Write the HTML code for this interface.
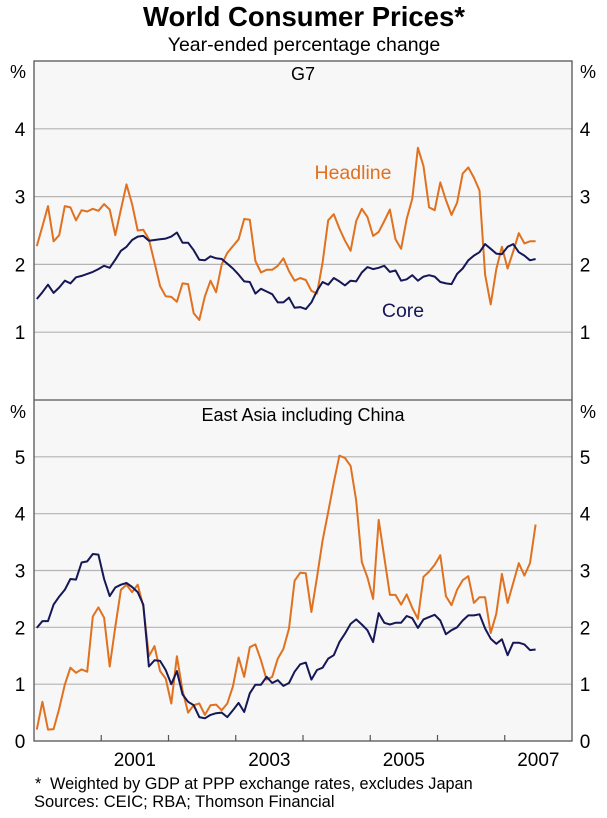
<!DOCTYPE html>
<html><head><meta charset="utf-8">
<style>
html,body{margin:0;padding:0;background:#fff;}
body{width:607px;height:813px;overflow:hidden;font-family:"Liberation Sans",Arial,sans-serif;}
svg text{font-family:"Liberation Sans",Arial,sans-serif;}
</style></head>
<body>
<svg id="chart" width="607" height="813">
  <text x="304" y="26" text-anchor="middle" font-size="27.5" font-weight="bold" fill="#000">World Consumer Prices*</text>
  <text x="304" y="51" text-anchor="middle" font-size="19.5" fill="#000">Year-ended percentage change</text>
  <g id="plots"></g>
  <text x="35" y="789" font-size="16.3" fill="#000">*</text>
  <text x="50" y="789" font-size="16.3" fill="#000">Weighted by GDP at PPP exchange rates, excludes Japan</text>
  <text x="34" y="807" font-size="16.5" fill="#000">Sources: CEIC; RBA; Thomson Financial</text>
</svg>
<script>
const g7Headline=[2.27,2.56,2.86,2.34,2.43,2.86,2.84,2.65,2.80,2.78,2.82,2.79,2.89,2.81,2.43,2.81,3.18,2.89,2.50,2.51,2.37,2.03,1.68,1.53,1.52,1.45,1.72,1.71,1.28,1.18,1.53,1.76,1.59,2.00,2.17,2.27,2.37,2.67,2.66,2.05,1.88,1.92,1.92,1.98,2.09,1.90,1.76,1.80,1.77,1.61,1.57,2.03,2.65,2.74,2.53,2.35,2.20,2.64,2.82,2.70,2.42,2.48,2.64,2.81,2.37,2.23,2.67,2.97,3.72,3.45,2.84,2.80,3.21,2.95,2.73,2.91,3.34,3.43,3.28,3.09,1.85,1.41,1.93,2.26,1.94,2.19,2.46,2.31,2.34,2.34];
const g7Core=[1.49,1.59,1.70,1.58,1.66,1.76,1.72,1.81,1.83,1.86,1.89,1.93,1.98,1.95,2.07,2.20,2.26,2.36,2.41,2.42,2.35,2.36,2.37,2.38,2.41,2.47,2.32,2.32,2.21,2.07,2.06,2.12,2.09,2.08,2.01,1.94,1.85,1.75,1.74,1.57,1.64,1.60,1.56,1.44,1.44,1.51,1.36,1.37,1.34,1.44,1.61,1.74,1.70,1.80,1.75,1.69,1.76,1.75,1.88,1.96,1.93,1.95,1.98,1.89,1.91,1.76,1.78,1.84,1.76,1.82,1.84,1.82,1.74,1.72,1.71,1.86,1.94,2.06,2.13,2.18,2.30,2.23,2.16,2.15,2.26,2.30,2.18,2.13,2.06,2.08];
const asiaHeadline=[0.20,0.69,0.20,0.21,0.57,0.99,1.29,1.20,1.26,1.22,2.19,2.35,2.17,1.31,2.01,2.66,2.75,2.62,2.75,2.37,1.49,1.67,1.23,1.10,0.66,1.49,0.89,0.50,0.63,0.66,0.46,0.63,0.64,0.54,0.66,0.96,1.47,1.13,1.65,1.70,1.42,1.08,1.13,1.45,1.62,1.98,2.82,2.96,2.95,2.27,2.88,3.53,4.03,4.55,5.02,4.98,4.84,4.23,3.15,2.88,2.50,3.89,3.23,2.57,2.57,2.40,2.58,2.34,2.15,2.89,2.98,3.10,3.27,2.55,2.39,2.66,2.83,2.90,2.43,2.53,2.53,1.90,2.24,2.94,2.43,2.78,3.13,2.91,3.13,3.81];
const asiaCore=[1.99,2.11,2.11,2.40,2.54,2.66,2.85,2.84,3.14,3.16,3.29,3.28,2.85,2.55,2.70,2.75,2.78,2.71,2.62,2.40,1.31,1.42,1.41,1.25,1.00,1.23,0.82,0.69,0.63,0.42,0.40,0.46,0.49,0.50,0.42,0.54,0.67,0.51,0.84,0.99,0.99,1.13,1.02,1.07,0.97,1.02,1.22,1.35,1.38,1.08,1.25,1.29,1.45,1.51,1.74,1.89,2.06,2.14,2.05,1.95,1.74,2.25,2.08,2.05,2.08,2.08,2.20,2.16,1.99,2.14,2.18,2.22,2.12,1.88,1.95,2.00,2.12,2.21,2.21,2.23,1.98,1.80,1.71,1.79,1.51,1.73,1.73,1.70,1.60,1.61];
const yearLabels=["2001","2003","2005","2007"];
const topTicks=[1,2,3,4];
const bottomTicks=[0,1,2,3,4,5];

const NS="http://www.w3.org/2000/svg";
const root=document.getElementById('plots');
const L=34,R=572,TOP=61,MID=400,BOT=741;
const startYear=2000,endYear=2008;
function xMonth(i){return L+(startYear+(i+0.5)/12-startYear)/(endYear-startYear)*(R-L);}
function xYear(y){return L+(y-startYear)/(endYear-startYear)*(R-L);}
function yTop(v){return MID-v*(MID-TOP)/5;}
function yBot(v){return BOT-v*(BOT-MID)/6;}
function el(tag,attrs){const e=document.createElementNS(NS,tag);for(const k in attrs)e.setAttribute(k,attrs[k]);root.appendChild(e);return e;}

const bg=el('rect',{x:L,y:TOP,width:R-L,height:BOT-TOP,fill:'#f7f7f7'});



topTicks.forEach(v=>{
  const ln=el('line',{x1:L,x2:R,y1:yTop(v),y2:yTop(v),stroke:'#b4b4b4','stroke-width':1.2});
  
  
  const t1=el('text',{x:20,y:yTop(v)+7,'text-anchor':'middle','font-size':19});
  t1.textContent=v;
  
  
  const t2=el('text',{x:585,y:yTop(v)+7,'text-anchor':'middle','font-size':19});
  t2.textContent=v;
  
  
});
bottomTicks.forEach(v=>{
  if(v>0){
    const ln=el('line',{x1:L,x2:R,y1:yBot(v),y2:yBot(v),stroke:'#b4b4b4','stroke-width':1.2});
    
    
  }
  const t1=el('text',{x:20,y:yBot(v)+7,'text-anchor':'middle','font-size':19});
  t1.textContent=v;
  
  
  const t2=el('text',{x:585,y:yBot(v)+7,'text-anchor':'middle','font-size':19});
  t2.textContent=v;
  
  
});
[["%",18,78],["%",588,78],["%",18,418],["%",588,418]].forEach(a=>{
  const t=el('text',{x:a[1],y:a[2],'text-anchor':'middle','font-size':18});
  t.textContent=a[0];
  
  
});
const mid=el('line',{x1:L,x2:R,y1:MID,y2:MID,stroke:'#555','stroke-width':1.3});


const frame=el('rect',{x:L,y:TOP,width:R-L,height:BOT-TOP,fill:'none',stroke:'#555','stroke-width':1.3});


for(let y=2001;y<=2007;y++){
  const tk=el('line',{x1:xYear(y),x2:xYear(y),y1:BOT,y2:BOT-6,stroke:'#555','stroke-width':1.2});
  
  
}
yearLabels.forEach(s=>{
  const t=el('text',{x:xYear(+s+0.5),y:766,'text-anchor':'middle','font-size':19});
  t.textContent=s;
  
  
});
const pt1=el('text',{x:303,y:80,'text-anchor':'middle','font-size':18});
pt1.textContent='G7';


const pt2=el('text',{x:303,y:421,'text-anchor':'middle','font-size':18});
pt2.textContent='East Asia including China';



function line(data,yf,color,name){
  const d=data.map((v,i)=>(i?'L':'M')+xMonth(i).toFixed(1)+','+yf(v).toFixed(1)).join('');
  const p=el('path',{d:d,fill:'none',stroke:color,'stroke-width':2,'stroke-linejoin':'round'});
  
  
}
const ORANGE='#e0711f',NAVY='#151756';
line(g7Headline,yTop,ORANGE,'g7-headline-line');
line(g7Core,yTop,NAVY,'g7-core-line');
line(asiaHeadline,yBot,ORANGE,'east-asia-headline-line');
line(asiaCore,yBot,NAVY,'east-asia-core-line');

const hl=el('text',{x:353,y:179,'text-anchor':'middle','font-size':19.5,fill:ORANGE});
hl.textContent='Headline';


const cl=el('text',{x:403,y:317,'text-anchor':'middle','font-size':19.5,fill:NAVY});
cl.textContent='Core';


</script>
</body></html>
